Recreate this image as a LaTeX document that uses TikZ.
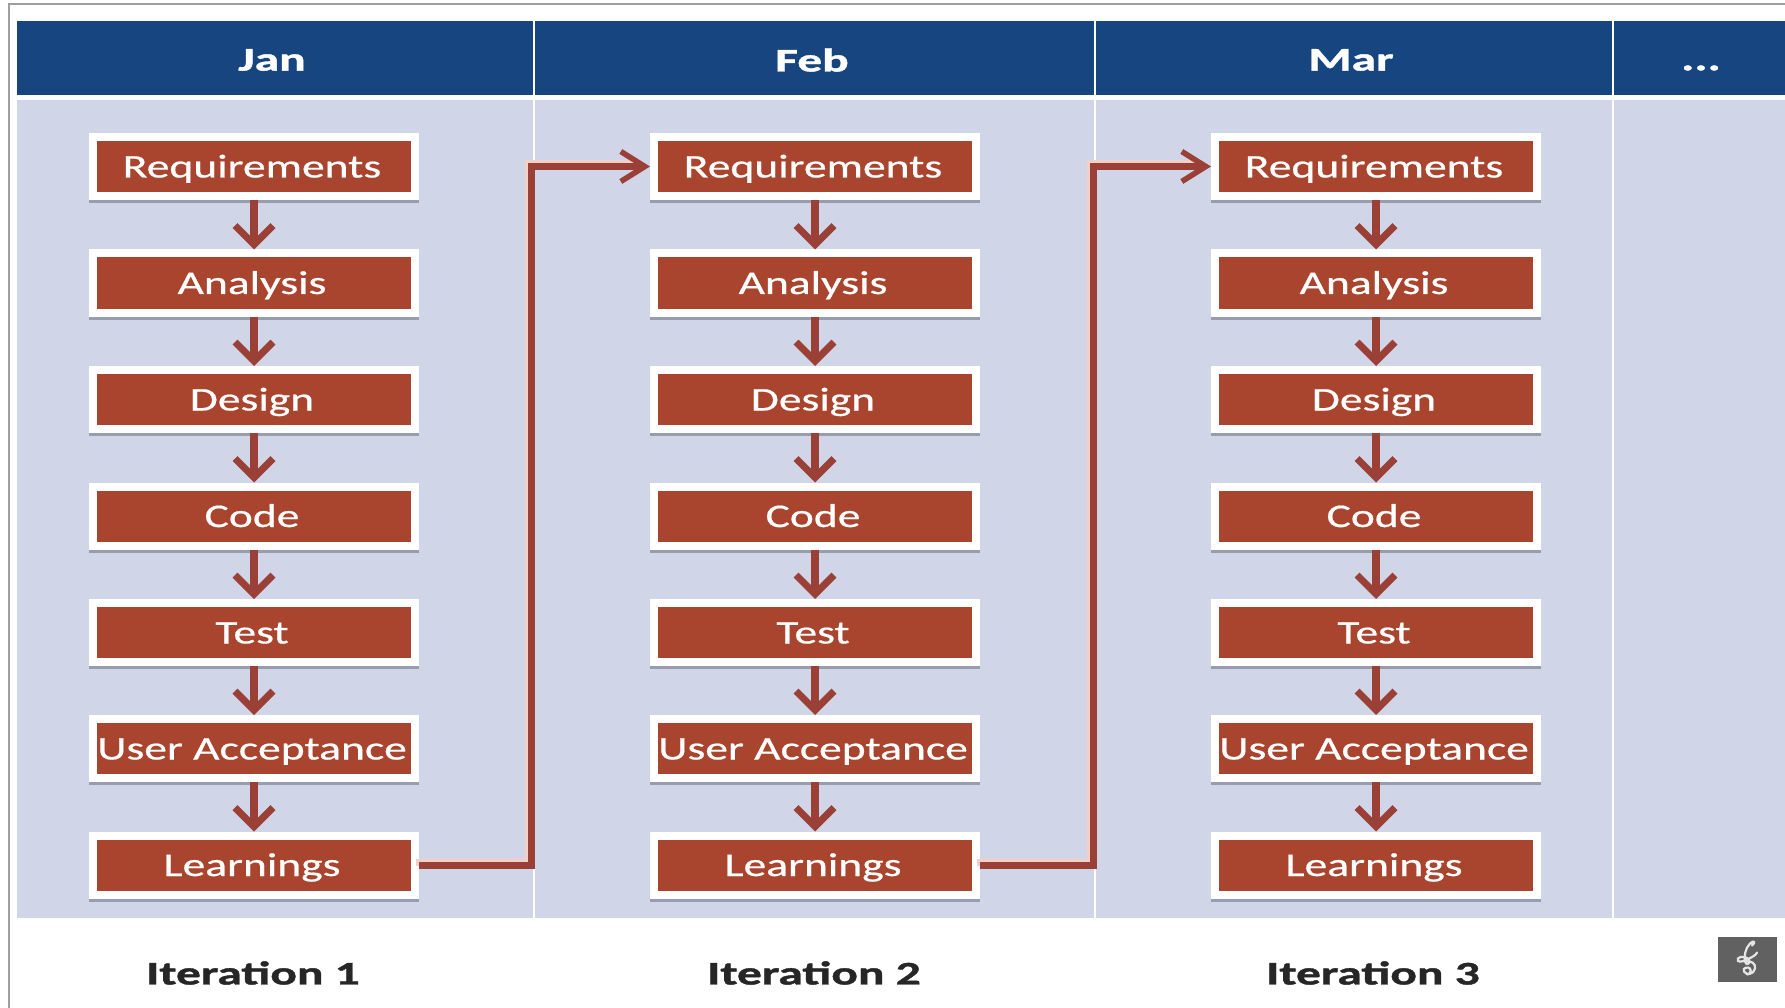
\documentclass[tikz,border=0pt]{standalone}
\usepackage{fontspec}
\setmainfont{Carlito}[FakeStretch=1.38,FakeBold=0.6]
\newfontfamily\hdfont{Carlito}[FakeStretch=1.5,FakeBold=1.2,BoldFont={* Bold}]
\usetikzlibrary{arrows.meta,shadows,calc}
\definecolor{hdr}{HTML}{17457F}
\definecolor{pan}{HTML}{D0D6E8}
\definecolor{boxr}{HTML}{A9452F}
\definecolor{arr}{HTML}{9A4036}
\definecolor{halo}{HTML}{F3CFC8}
\definecolor{shd}{HTML}{8A8FA0}
\tikzset{
  headband/.style={fill=hdr,draw=none,minimum height=74pt,inner sep=0pt,anchor=north west},
  panelband/.style={fill=pan,draw=none,inner sep=0pt,anchor=north west},
  monthlbl/.style={text=white,font=\hdfont\fontsize{33}{36}\selectfont\bfseries,inner sep=0pt},
  iterlbl/.style={text=black!85,font=\hdfont\fontsize{33}{36}\selectfont\bfseries,inner sep=0pt},
  stepbox/.style={fill=boxr,draw=white,line width=8pt,minimum width=322pt,minimum height=59pt,inner sep=0pt,
    text=white,font=\fontsize{33}{36}\selectfont,text height=24pt,text depth=2pt,
    execute at end node={\kern 4pt},
    drop shadow={shadow xshift=0pt,shadow yshift=-3pt,fill=shd,draw=shd,opacity=.8}},
  flow/.style={draw=arr,line width=8pt,-{Straight Barb[length=19pt,width=38pt,line width=7pt]}},
  link/.style={draw=arr,line width=7pt,line join=miter,-{Straight Barb[length=24pt,width=30pt,line width=5.5pt]}},
  linkhalo/.style={draw=halo,line width=7pt,line join=miter,transform canvas={shift={(-3pt,3pt)}}},
}
\begin{document}
\begin{tikzpicture}[x=1pt,y=-1pt]
\useasboundingbox (0,0) rectangle (1785,1008);
\fill[white] (0,0) rectangle (1785,1008);
% frame line
\draw[gray!75,line width=1.5pt] (9,1008) -- (9,4) -- (1785,4);
% bands
\node[panelband,minimum width=1768pt,minimum height=818pt] (panel) at (17,100) {};
\node[headband,minimum width=1768pt] (head) at (17,21) {};
% dividers
\foreach \x/\n in {534/a,1095/b,1613/c}{
  \coordinate (d\n) at (\x,21);
  \coordinate (f\n) at (\x,918);
  \draw[white,line width=2.5pt] (d\n) -- (f\n);
}
\draw[white,line width=5pt] (head.south west) ++(0,2.5) -- ++(1768,0);
% month labels
\node[monthlbl] (mjan) at (272,60) {Jan};
\node[monthlbl] (mfeb) at (812,60) {Feb};
\node[monthlbl] (mmar) at (1351,60) {Mar};
\node[monthlbl] (mmore) at (1701,68) {...};
% iteration labels
\node[iterlbl] (it1) at (253,973) {Iteration 1};
\node[iterlbl] (it2) at (814,973) {Iteration 2};
\node[iterlbl] (it3) at (1373,973) {Iteration 3};
% boxes
\foreach \c/\x in {1/254,2/815,3/1376}{
  \node[stepbox] (r\c) at (\x,166.5) {Requirements};
  \node[stepbox] (a\c) at (\x,283) {Analysis};
  \node[stepbox] (d\c) at (\x,399.5) {Design};
  \node[stepbox] (o\c) at (\x,516) {Code};
  \node[stepbox] (t\c) at (\x,632.5) {Test};
  \node[stepbox] (u\c) at (\x,748.5) {User Acceptance};
  \node[stepbox] (l\c) at (\x,865) {Learnings};
  \draw[flow] (r\c) -- (a\c);
  \draw[flow] (a\c) -- (d\c);
  \draw[flow] (d\c) -- (o\c);
  \draw[flow] (o\c) -- (t\c);
  \draw[flow] (t\c) -- (u\c);
  \draw[flow] (u\c) -- (l\c);
}
% links between iterations
\coordinate (e1) at (531,0);
\coordinate (e2) at (1093,0);
\draw[linkhalo] (l1.east) -- (l1.east -| e1) -- (r2.west -| e1) -- ($(r2.west)+(-8,0)$);
\draw[linkhalo] (l2.east) -- (l2.east -| e2) -- (r3.west -| e2) -- ($(r3.west)+(-8,0)$);
\draw[link] (l1.east) -- (l1.east -| e1) -- (r2.west -| e1) -- (r2.west);
\draw[link] (l2.east) -- (l2.east -| e2) -- (r3.west -| e2) -- (r3.west);
% logo
\node[fill=black!62,minimum width=59pt,minimum height=45pt,inner sep=0pt] (logo) at (1747,959.5) {};
\begin{scope}[shift={(logo.center)}]
\draw[white!90!black,line width=2.2pt,line cap=round]
  (5,-14) .. controls (9,-17) and (7,-20) .. (3,-16)
  .. controls (-2,-11) and (-3,-3) .. (-2,2)
  .. controls (-1,6) and (3,5) .. (2,1)
  .. controls (1,-3) and (-7,-4) .. (-9,-1)
  .. controls (-11,3) and (-5,3) .. (0,0)
  .. controls (4,-2) and (9,-4) .. (10,-7);
\draw[white!90!black,line width=2.2pt,line cap=round]
  (-1,2) .. controls (4,1) and (9,4) .. (8,9)
  .. controls (7,15) and (-1,16) .. (-3,12)
  .. controls (-5,8) and (1,7) .. (3,9)
  .. controls (5,12) and (2,15) .. (0,15);
\end{scope}
\end{tikzpicture}
\end{document}
